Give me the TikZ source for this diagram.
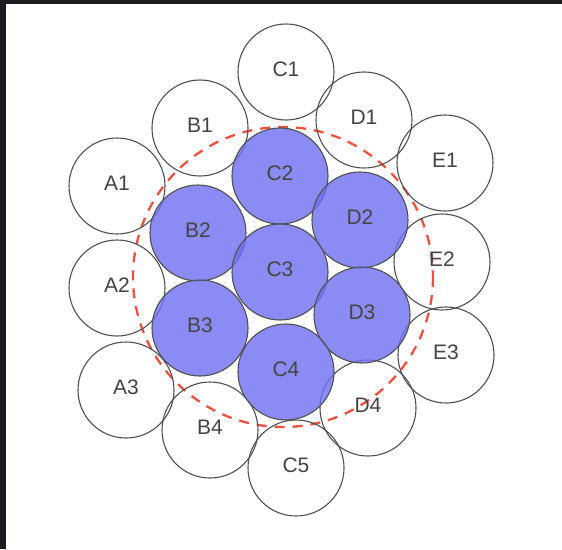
\documentclass[tikz,border=0pt]{standalone}
\usepackage{fontspec}
\setmainfont{Liberation Sans}
\definecolor{frame}{HTML}{1B1D21}
\definecolor{ink}{HTML}{444444}
\definecolor{cellline}{HTML}{505050}
\definecolor{hitfill}{HTML}{6F6FF3}
\definecolor{zoneline}{HTML}{EF5040}
\newcommand{\labelsize}{\fontsize{21}{23}\selectfont}
\tikzset{
 every node/.append style={font=\labelsize,text=ink},
 cell/.style={circle,draw=cellline,line width=1.1pt,minimum size=96pt,inner sep=0pt,text depth=6pt},
 hit/.style={cell,fill=hitfill,fill opacity=.8,text opacity=1},
 zone/.style={draw=zoneline,line width=2.3pt,dash pattern=on 10pt off 8pt},
}

\begin{document}
\begin{tikzpicture}[x=1pt,y=-1pt]

\useasboundingbox (0,0) rectangle (562,549);
\fill[frame] (0,0) rectangle (562,549);
\fill[white] (6,4) rectangle (562,549);
\coordinate (centre) at (283,277);
\draw[zone] (centre) circle[radius=150];
% outer ring
\node[cell] (c1) at (286,72) {C1};
\node[cell] (b1) at (200,128) {B1};
\node[cell] (d1) at (364,120) {D1};
\node[cell] (a1) at (117,186) {A1};
\node[cell] (e1) at (445,163) {E1};
\node[cell] (a2) at (117,288) {A2};
\node[cell] (e2) at (442,262) {E2};
\node[cell] (a3) at (126,390) {A3};
\node[cell] (e3) at (446,355) {E3};
\node[cell] (b4) at (210,430) {B4};
\node[cell] (d4) at (368,408) {D4};
\node[cell] (c5) at (296,468) {C5};
% inner cells
\node[hit] (c2) at (280,176) {C2};
\node[hit] (b2) at (198,233) {B2};
\node[hit] (d2) at (360,220) {D2};
\node[hit] (c3) at (280,272) {C3};
\node[hit] (b3) at (200,328) {B3};
\node[hit] (d3) at (362,315) {D3};
\node[hit] (c4) at (286,372) {C4};

\end{tikzpicture}
\end{document}
